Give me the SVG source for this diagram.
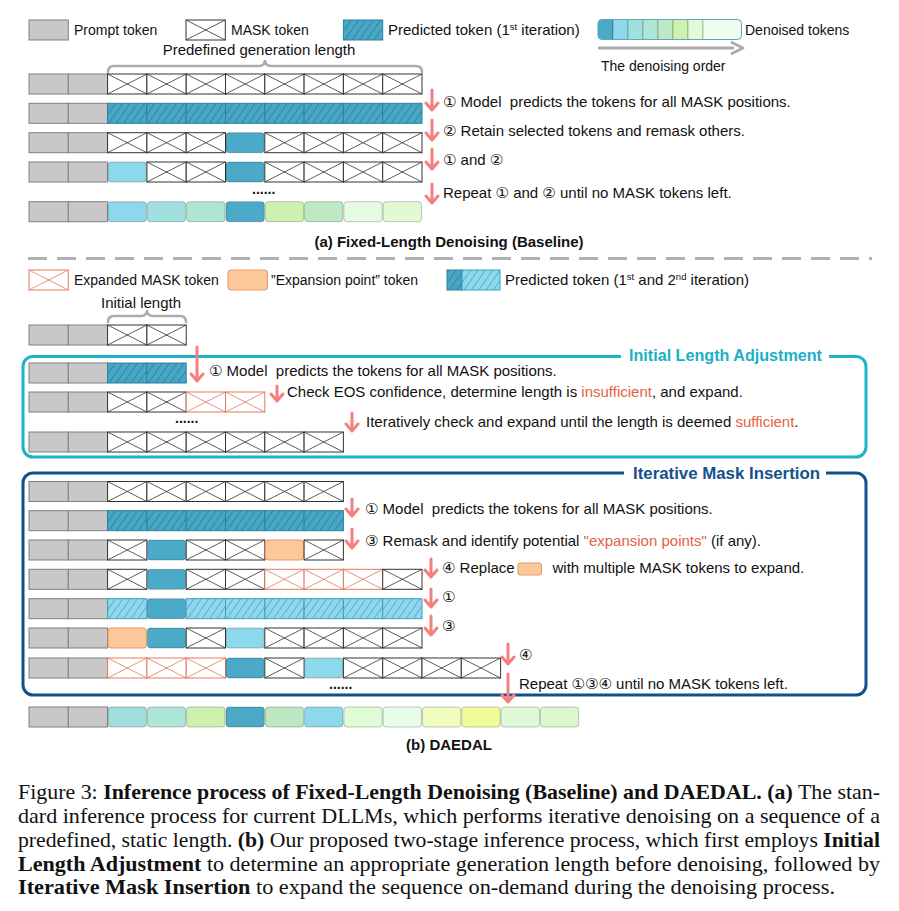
<svg xmlns="http://www.w3.org/2000/svg" xmlns:xlink="http://www.w3.org/1999/xlink" width="899" height="911" viewBox="0 0 899 911">
<style>
.t{font-family:"Liberation Sans","DejaVu Sans",sans-serif;font-size:14px;fill:#111;white-space:pre}
.s{font-family:"Liberation Sans","DejaVu Sans",sans-serif;font-size:15px;fill:#111;white-space:pre}
.tb{font-family:"Liberation Sans","DejaVu Sans",sans-serif;font-size:15px;font-weight:bold;fill:#111}
.or{fill:#e4623f}
.cap{font-family:"Liberation Serif","DejaVu Serif",serif;font-size:21px;fill:#111}
.b{font-weight:bold}
.arr{fill:none;stroke:#f47f7f;stroke-width:3;stroke-linecap:round;stroke-linejoin:round}
.tok{stroke:#000;stroke-opacity:0.22;stroke-width:1}
.brace{fill:none;stroke:#ababab;stroke-width:2.5;stroke-linecap:round}
.dots{font-family:"Liberation Sans",sans-serif;font-size:14px;font-weight:bold;fill:#111}
</style>
<defs>
<pattern id="hD" patternUnits="userSpaceOnUse" width="6" height="6" patternTransform="rotate(35)">
<rect width="6" height="6" fill="#49a7c6"/>
<line x1="0" y1="0" x2="0" y2="6" stroke="#1f6e8b" stroke-width="1.2"/>
</pattern>
<pattern id="hL" patternUnits="userSpaceOnUse" width="6" height="6" patternTransform="rotate(35)">
<rect width="6" height="6" fill="#8fd7ea"/>
<line x1="0" y1="0" x2="0" y2="6" stroke="#3497b8" stroke-width="1.2"/>
</pattern>
<g id="P"><rect width="39.3" height="20" fill="#c8c8c8" stroke="#808080" stroke-width="1"/></g>
<g id="M"><rect width="39.3" height="20" fill="#fff" stroke="#333" stroke-width="1"/><path d="M0,0L39.3,20M0,20L39.3,0" stroke="#333" stroke-width="0.8"/></g>
<g id="E"><rect width="39.3" height="20" fill="#fff" stroke="#e07a5f" stroke-width="1"/><path d="M0,0L39.3,20M0,20L39.3,0" stroke="#e07a5f" stroke-width="0.8"/></g>
<g id="D"><rect width="39.3" height="20" fill="url(#hD)" stroke="#2a82a0" stroke-width="1"/></g>
<g id="L"><rect width="39.3" height="20" fill="url(#hL)" stroke="#3a9fc0" stroke-width="1"/></g>
<g id="K"><rect x="0.5" y="0" width="38.3" height="20" rx="3" fill="#4aaac8" class="tok"/></g>
<g id="B"><rect x="0.5" y="0" width="38.3" height="20" rx="3" fill="#8ed8ec" class="tok"/></g>
<g id="O"><rect x="0.5" y="0" width="38.3" height="20" rx="3" fill="#fdc899" stroke="#e3986a" stroke-width="1"/></g>
<clipPath id="strip"><rect x="598" y="19.5" width="143.5" height="20" rx="4"/></clipPath>
</defs>
<rect width="899" height="911" fill="#fff"/>

<!-- Legend (a) -->
<g id="legend-a">
<use href="#P" x="29" y="20"/>
<text class="t" x="74" y="35">Prompt token</text>
<use href="#M" x="186" y="20"/>
<text class="t" x="231" y="35">MASK token</text>
<use href="#D" x="343.4" y="20"/>
<text class="s" x="388" y="35">Predicted token (1<tspan font-size="9.5" dy="-5">st</tspan><tspan dy="5"> iteration)</tspan></text>
<g clip-path="url(#strip)">
<rect x="598" y="19.5" width="15" height="20" fill="#4aaac8" class="tok"/>
<rect x="613" y="19.5" width="15" height="20" fill="#8ed8ec" class="tok"/>
<rect x="628" y="19.5" width="15" height="20" fill="#a2e0e0" class="tok"/>
<rect x="643" y="19.5" width="15" height="20" fill="#ade6d4" class="tok"/>
<rect x="658" y="19.5" width="15" height="20" fill="#bde8c4" class="tok"/>
<rect x="673" y="19.5" width="15" height="20" fill="#cdf2b0" class="tok"/>
<rect x="688" y="19.5" width="15" height="20" fill="#e2fad6" class="tok"/>
<rect x="703" y="19.5" width="38.5" height="20" fill="#eefdf0" class="tok"/>
</g>
<rect x="598" y="19.5" width="143.5" height="20" rx="4" fill="none" stroke="#5fa8bd" stroke-width="1"/>
<text class="t" x="745" y="35">Denoised tokens</text>
<line x1="598" y1="48" x2="734" y2="48" stroke="#ababab" stroke-width="3"/>
<path d="M731,42 L743,48 L731,54" fill="none" stroke="#ababab" stroke-width="3" stroke-linejoin="round"/>
<text class="t" x="601" y="71">The denoising order</text>
</g>

<g id="predef-length">
<text class="s" x="259" y="55" text-anchor="middle">Predefined generation length</text>
<path class="brace" d="M108,72 Q108,66 114,66 L259,66 Q265,66 265,60 Q265,66 271,66 L416,66 Q422,66 422,72"/>
</g>

<!-- Rows (a) -->
<g id="a-row1">
<use href="#P" x="29" y="74"/><use href="#P" x="68.3" y="74"/>
<use href="#M" x="107.6" y="74"/><use href="#M" x="146.9" y="74"/><use href="#M" x="186.2" y="74"/><use href="#M" x="225.5" y="74"/><use href="#M" x="264.8" y="74"/><use href="#M" x="304.1" y="74"/><use href="#M" x="343.4" y="74"/><use href="#M" x="382.7" y="74"/>
</g>
<g id="a-row2">
<use href="#P" x="29" y="103.3"/><use href="#P" x="68.3" y="103.3"/>
<use href="#D" x="107.6" y="103.3"/><use href="#D" x="146.9" y="103.3"/><use href="#D" x="186.2" y="103.3"/><use href="#D" x="225.5" y="103.3"/><use href="#D" x="264.8" y="103.3"/><use href="#D" x="304.1" y="103.3"/><use href="#D" x="343.4" y="103.3"/><use href="#D" x="382.7" y="103.3"/>
</g>
<g id="a-row3">
<use href="#P" x="29" y="132.7"/><use href="#P" x="68.3" y="132.7"/>
<use href="#M" x="107.6" y="132.7"/><use href="#M" x="146.9" y="132.7"/><use href="#M" x="186.2" y="132.7"/><use href="#K" x="225.5" y="132.7"/><use href="#M" x="264.8" y="132.7"/><use href="#M" x="304.1" y="132.7"/><use href="#M" x="343.4" y="132.7"/><use href="#M" x="382.7" y="132.7"/>
</g>
<g id="a-row4">
<use href="#P" x="29" y="162"/><use href="#P" x="68.3" y="162"/>
<use href="#B" x="107.6" y="162"/><use href="#M" x="146.9" y="162"/><use href="#M" x="186.2" y="162"/><use href="#K" x="225.5" y="162"/><use href="#M" x="264.8" y="162"/><use href="#M" x="304.1" y="162"/><use href="#M" x="343.4" y="162"/><use href="#M" x="382.7" y="162"/>
</g>
<text class="dots" x="252" y="194">......</text>
<g id="a-row5">
<use href="#P" x="29" y="201.7"/><use href="#P" x="68.3" y="201.7"/>
<rect x="108.1" y="201.7" width="38.3" height="20" rx="3" fill="#8ed8ec" class="tok"/>
<rect x="147.4" y="201.7" width="38.3" height="20" rx="3" fill="#a2e0e0" class="tok"/>
<rect x="186.7" y="201.7" width="38.3" height="20" rx="3" fill="#aee6d2" class="tok"/>
<rect x="226" y="201.7" width="38.3" height="20" rx="3" fill="#4aaac8" class="tok"/>
<rect x="265.3" y="201.7" width="38.3" height="20" rx="3" fill="#cdf2b0" class="tok"/>
<rect x="304.6" y="201.7" width="38.3" height="20" rx="3" fill="#bde8c4" class="tok"/>
<rect x="343.9" y="201.7" width="38.3" height="20" rx="3" fill="#e6fce2" class="tok"/>
<rect x="383.2" y="201.7" width="38.3" height="20" rx="3" fill="#e2fad2" class="tok"/>
</g>

<g id="a-labels">
<text class="s" x="443" y="107">① Model  predicts the tokens for all MASK positions.</text>
<text class="s" x="443" y="136">② Retain selected tokens and remask others.</text>
<text class="s" x="443" y="165">① and ②</text>
<text class="s" x="443" y="198">Repeat ① and ② until no MASK tokens left.</text>
<text class="tb" x="449" y="247" text-anchor="middle">(a) Fixed-Length Denoising (Baseline)</text>
</g>

<line x1="28" y1="258.5" x2="872" y2="258.5" stroke="#b0b0b0" stroke-width="3" stroke-dasharray="19 10"/>

<!-- Legend (b) -->
<g id="legend-b">
<use href="#E" x="29" y="270"/>
<text class="t" x="74" y="285">Expanded MASK token</text>
<rect x="228" y="270" width="39.5" height="20" rx="3" fill="#fdc899" stroke="#e3986a" stroke-width="1"/>
<text class="t" x="271" y="285">”Expansion point” token</text>
<rect x="447" y="270" width="15" height="20" fill="url(#hD)" stroke="#2a82a0" stroke-width="1"/>
<rect x="462" y="270" width="38" height="20" fill="url(#hL)" stroke="#3a9fc0" stroke-width="1"/>
<text class="s" x="505" y="285">Predicted token (1<tspan font-size="9.5" dy="-5">st</tspan><tspan dy="5"> and 2</tspan><tspan font-size="9.5" dy="-5">nd</tspan><tspan dy="5"> iteration)</tspan></text>
</g>

<g id="initial-length">
<text class="s" x="141" y="308" text-anchor="middle">Initial length</text>
<path class="brace" d="M108,322 Q108,316 114,316 L141,316 Q147,316 147,310 Q147,316 153,316 L180,316 Q186,316 186,322"/>
</g>
<g id="b-row0">
<use href="#P" x="29" y="325"/><use href="#P" x="68.3" y="325"/>
<use href="#M" x="107.6" y="325"/><use href="#M" x="146.9" y="325"/>
</g>

<!-- Initial Length Adjustment box -->
<g id="ila-box">
<rect x="23" y="356.5" width="843" height="100.5" rx="10" fill="none" stroke="#1eb4c8" stroke-width="3"/>
<rect x="621" y="350" width="208" height="14" fill="#fff"/>
<text x="629" y="361" textLength="193" lengthAdjust="spacingAndGlyphs" font-family="Liberation Sans, sans-serif" font-size="16" font-weight="bold" fill="#1ab0c6">Initial Length Adjustment</text>
</g>
<g id="b-row1">
<use href="#P" x="29" y="363"/><use href="#P" x="68.3" y="363"/>
<use href="#D" x="107.6" y="363"/><use href="#D" x="146.9" y="363"/>
</g>
<g id="b-row2">
<use href="#P" x="29" y="392"/><use href="#P" x="68.3" y="392"/>
<use href="#M" x="107.6" y="392"/><use href="#M" x="146.9" y="392"/><use href="#E" x="186.2" y="392"/><use href="#E" x="225.5" y="392"/>
</g>
<text class="dots" x="175" y="423">......</text>
<g id="b-row3">
<use href="#P" x="29" y="432"/><use href="#P" x="68.3" y="432"/>
<use href="#M" x="107.6" y="432"/><use href="#M" x="146.9" y="432"/><use href="#M" x="186.2" y="432"/><use href="#M" x="225.5" y="432"/><use href="#M" x="264.8" y="432"/><use href="#M" x="304.1" y="432"/>
</g>
<g id="ila-labels">
<text class="s" x="209" y="376">① Model  predicts the tokens for all MASK positions.</text>
<text class="s" x="287" y="397">Check EOS confidence, determine length is <tspan class="or">insufficient</tspan>, and expand.</text>
<text class="s" x="366" y="427">Iteratively check and expand until the length is deemed <tspan class="or">sufficient</tspan>.</text>
</g>

<!-- Iterative Mask Insertion box -->
<g id="imi-box">
<rect x="23" y="473" width="843" height="222" rx="10" fill="none" stroke="#13508b" stroke-width="3"/>
<rect x="624" y="467" width="202" height="14" fill="#fff"/>
<text x="633" y="478.5" textLength="187" lengthAdjust="spacingAndGlyphs" font-family="Liberation Sans, sans-serif" font-size="16" font-weight="bold" fill="#14508b">Iterative Mask Insertion</text>
</g>
<g id="c-row1">
<use href="#P" x="29" y="481.5"/><use href="#P" x="68.3" y="481.5"/>
<use href="#M" x="107.6" y="481.5"/><use href="#M" x="146.9" y="481.5"/><use href="#M" x="186.2" y="481.5"/><use href="#M" x="225.5" y="481.5"/><use href="#M" x="264.8" y="481.5"/><use href="#M" x="304.1" y="481.5"/>
</g>
<g id="c-row2">
<use href="#P" x="29" y="510.7"/><use href="#P" x="68.3" y="510.7"/>
<use href="#D" x="107.6" y="510.7"/><use href="#D" x="146.9" y="510.7"/><use href="#D" x="186.2" y="510.7"/><use href="#D" x="225.5" y="510.7"/><use href="#D" x="264.8" y="510.7"/><use href="#D" x="304.1" y="510.7"/>
</g>
<g id="c-row3">
<use href="#P" x="29" y="540"/><use href="#P" x="68.3" y="540"/>
<use href="#M" x="107.6" y="540"/><use href="#K" x="146.9" y="540"/><use href="#M" x="186.2" y="540"/><use href="#M" x="225.5" y="540"/><use href="#O" x="264.8" y="540"/><use href="#M" x="304.1" y="540"/>
</g>
<g id="c-row4">
<use href="#P" x="29" y="569.3"/><use href="#P" x="68.3" y="569.3"/>
<use href="#M" x="107.6" y="569.3"/><use href="#K" x="146.9" y="569.3"/><use href="#M" x="186.2" y="569.3"/><use href="#M" x="225.5" y="569.3"/><use href="#E" x="264.8" y="569.3"/><use href="#E" x="304.1" y="569.3"/><use href="#E" x="343.4" y="569.3"/><use href="#M" x="382.7" y="569.3"/>
</g>
<g id="c-row5">
<use href="#P" x="29" y="598.7"/><use href="#P" x="68.3" y="598.7"/>
<use href="#L" x="107.6" y="598.7"/><use href="#K" x="146.9" y="598.7"/><use href="#L" x="186.2" y="598.7"/><use href="#L" x="225.5" y="598.7"/><use href="#L" x="264.8" y="598.7"/><use href="#L" x="304.1" y="598.7"/><use href="#L" x="343.4" y="598.7"/><use href="#L" x="382.7" y="598.7"/>
</g>
<g id="c-row6">
<use href="#P" x="29" y="628"/><use href="#P" x="68.3" y="628"/>
<use href="#O" x="107.6" y="628"/><use href="#K" x="146.9" y="628"/><use href="#M" x="186.2" y="628"/><use href="#B" x="225.5" y="628"/><use href="#M" x="264.8" y="628"/><use href="#M" x="304.1" y="628"/><use href="#M" x="343.4" y="628"/><use href="#M" x="382.7" y="628"/>
</g>
<g id="c-row7">
<use href="#P" x="29" y="658"/><use href="#P" x="68.3" y="658"/>
<use href="#E" x="107.6" y="658"/><use href="#E" x="146.9" y="658"/><use href="#E" x="186.2" y="658"/><use href="#K" x="225.5" y="658"/><use href="#M" x="264.8" y="658"/><use href="#B" x="304.1" y="658"/><use href="#M" x="343.4" y="658"/><use href="#M" x="382.7" y="658"/><use href="#M" x="422" y="658"/><use href="#M" x="461.3" y="658"/>
</g>
<text class="dots" x="329" y="689">......</text>
<g id="imi-labels">
<text class="s" x="365" y="514">① Model  predicts the tokens for all MASK positions.</text>
<text class="s" x="365" y="546">③ Remask and identify potential <tspan class="or">"expansion points"</tspan> (if any).</text>
<text class="s" x="442" y="573">④ Replace</text>
<rect x="518" y="563" width="23.5" height="12" rx="2" fill="#fdc899" stroke="#e3986a" stroke-width="1"/>
<text class="s" x="552.5" y="573">with multiple MASK tokens to expand.</text>
<text class="s" x="442" y="602">①</text>
<text class="s" x="442" y="631">③</text>
<text class="s" x="519" y="660">④</text>
<text class="s" x="519" y="689">Repeat ①③④ until no MASK tokens left.</text>
</g>

<g id="final-row">
<use href="#P" x="29" y="707"/><use href="#P" x="68.3" y="707"/>
<rect x="108.1" y="707" width="38.3" height="20" rx="3" fill="#a0dede" class="tok"/>
<rect x="147.4" y="707" width="38.3" height="20" rx="3" fill="#ade6d6" class="tok"/>
<rect x="186.7" y="707" width="38.3" height="20" rx="3" fill="#cdf2b0" class="tok"/>
<rect x="226" y="707" width="38.3" height="20" rx="3" fill="#4aaac6" class="tok"/>
<rect x="265.3" y="707" width="38.3" height="20" rx="3" fill="#bde6c2" class="tok"/>
<rect x="304.6" y="707" width="38.3" height="20" rx="3" fill="#8ed8ec" class="tok"/>
<rect x="343.9" y="707" width="38.3" height="20" rx="3" fill="#e0fcd4" class="tok"/>
<rect x="383.2" y="707" width="38.3" height="20" rx="3" fill="#e8fcea" class="tok"/>
<rect x="422.5" y="707" width="38.3" height="20" rx="3" fill="#eefcc0" class="tok"/>
<rect x="461.8" y="707" width="38.3" height="20" rx="3" fill="#f0fc98" class="tok"/>
<rect x="501.1" y="707" width="38.3" height="20" rx="3" fill="#e0fad8" class="tok"/>
<rect x="540.4" y="707" width="38.3" height="20" rx="3" fill="#dcf8cc" class="tok"/>
</g>
<text class="tb" x="449" y="750" text-anchor="middle">(b) DAEDAL</text>

<!-- Connectors -->
<g id="connectors">
<path class="arr" d="M432,90V110M426,103L432,110L438,103"/>
<path class="arr" d="M432,120V140M426,133L432,140L438,133"/>
<path class="arr" d="M432,149V169M426,162L432,169L438,162"/>
<path class="arr" d="M432,184V203M426,196L432,203L438,196"/>
<path class="arr" d="M197,347V381M191,374L197,381L203,374"/>
<path class="arr" d="M277,386V401M271,394L277,401L283,394"/>
<path class="arr" d="M352,413V431M346,424L352,431L358,424"/>
<path class="arr" d="M352,499V516M346,509L352,516L358,509"/>
<path class="arr" d="M352,529V548M346,541L352,548L358,541"/>
<path class="arr" d="M431,559V577M425,570L431,577L437,570"/>
<path class="arr" d="M431,589V607M425,600L431,607L437,600"/>
<path class="arr" d="M431,616V635M425,628L431,635L437,628"/>
<path class="arr" d="M508,644V664M502,657L508,664L514,657"/>
<path class="arr" d="M508,674V702M502,695L508,702L514,695"/>
</g>

<!-- Caption -->
<g id="caption">
<text class="cap" x="18" y="799" textLength="862" lengthAdjust="spacingAndGlyphs">Figure 3: <tspan class="b">Inference process of Fixed-Length Denoising (Baseline) and DAEDAL.</tspan> <tspan class="b">(a)</tspan> The stan-</text>
<text class="cap" x="18" y="823" textLength="862" lengthAdjust="spacingAndGlyphs">dard inference process for current DLLMs, which performs iterative denoising on a sequence of a</text>
<text class="cap" x="18" y="847" textLength="862" lengthAdjust="spacingAndGlyphs">predefined, static length. <tspan class="b">(b)</tspan> Our proposed two-stage inference process, which first employs <tspan class="b">Initial</tspan></text>
<text class="cap" x="18" y="871" textLength="862" lengthAdjust="spacingAndGlyphs"><tspan class="b">Length Adjustment</tspan> to determine an appropriate generation length before denoising, followed by</text>
<text class="cap" x="18" y="894" textLength="817" lengthAdjust="spacingAndGlyphs"><tspan class="b">Iterative Mask Insertion</tspan> to expand the sequence on-demand during the denoising process.</text>
</g>
</svg>
